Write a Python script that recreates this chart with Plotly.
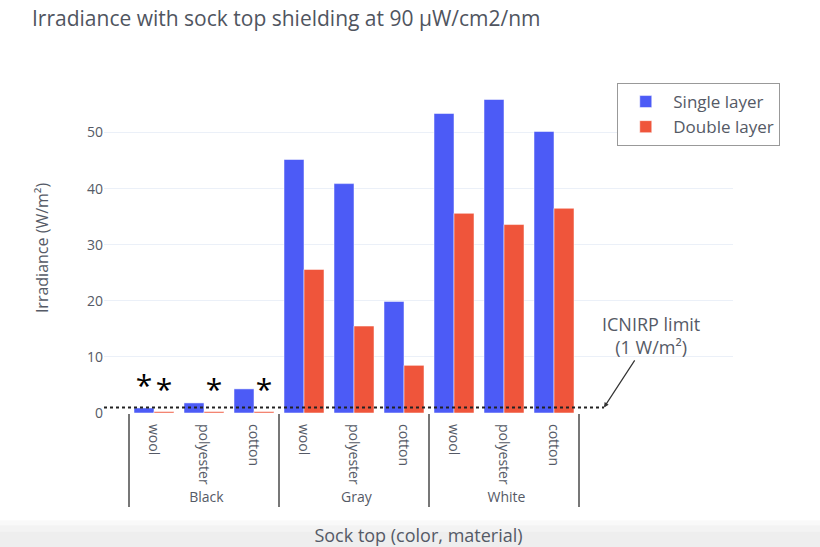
import plotly.graph_objects as go

colors = ["Black", "Black", "Black", "Gray", "Gray", "Gray", "White", "White", "White"]
materials = ["wool", "polyester", "cotton"] * 3

single_layer = [0.9, 1.8, 4.3, 45.2, 40.9, 19.9, 53.4, 55.9, 50.2]
double_layer = [0.25, 0.25, 0.25, 25.6, 15.5, 8.5, 35.6, 33.6, 36.5]

# values below the detection limit are flagged with an asterisk
single_marks = ["*", "", "", "", "", "", "", "", ""]
double_marks = ["*", "*", "*", "", "", "", "", "", ""]

icnirp_limit = 1.0

font_family = "Open Sans, sans-serif"
text_color = "#555a66"
blue = "#4C5BF6"
red = "#EF553B"

fig = go.Figure()
fig.add_trace(go.Bar(
    x=[colors, materials], y=single_layer, name="Single layer",
    marker_color=blue, text=single_marks, textposition="outside",
    textfont=dict(size=30, color="black"), cliponaxis=False,
))
fig.add_trace(go.Bar(
    x=[colors, materials], y=double_layer, name="Double layer",
    marker_color=red, text=double_marks, textposition="outside",
    textfont=dict(size=30, color="black"), cliponaxis=False,
))

# ICNIRP exposure limit as a dotted reference line
fig.add_shape(
    type="line", xref="x", yref="y", x0=-1, x1=9, y0=icnirp_limit, y1=icnirp_limit,
    line=dict(color="#222222", width=2, dash="dot"), layer="above",
)
fig.add_annotation(
    x=9, y=icnirp_limit, xref="x", yref="y",
    text="ICNIRP limit<br>(1 W/m²)", showarrow=True,
    ax=47, ay=-72, arrowhead=2, arrowsize=0.8, arrowwidth=1.2, arrowcolor="#333",
    font=dict(size=18, color=text_color, family=font_family),
)

# soft grey band fading in along the bottom edge
for y0, alpha in [(-0.325, 0.025), (-0.34, 0.025), (-0.36, 0.02)]:
    fig.add_shape(
        type="rect", xref="paper", yref="paper", x0=-0.2, x1=1.2, y0=-0.42, y1=y0,
        fillcolor=f"rgba(0,0,0,{alpha})", line_width=0, layer="below",
    )

fig.update_layout(
    template="plotly_white",
    width=820, height=547,
    margin=dict(l=104, r=87, t=83, b=134),
    font=dict(family=font_family, color=text_color),
    title=dict(
        text="Irradiance with sock top shielding at 90 μW/cm2/nm",
        x=32 / 820, xref="container", xanchor="left",
        y=1 - 19 / 547, yref="container", yanchor="middle",
        font=dict(size=21, color="#50555f", family=font_family),
    ),
    barmode="group", bargap=0.2,
    showlegend=True,
    legend=dict(
        x=0.816, y=1, xanchor="left", yanchor="top",
        bordercolor="#999999", borderwidth=1, itemwidth=45,
        font=dict(size=17, color=text_color),
    ),
    xaxis=dict(
        type="multicategory", range=[-1, 11.58], automargin=False,
        tickangle=90, tickfont=dict(size=14),
        ticklabelstandoff=10,
        showdividers=True, dividercolor="#777", dividerwidth=1.5,
        title=dict(text="Sock top (color, material)", font=dict(size=18), standoff=24),
        showgrid=False,
    ),
    yaxis=dict(
        dtick=10, tickfont=dict(size=14), automargin=False,
        title=dict(text="Irradiance (W/m²)", font=dict(size=16), standoff=34),
        zeroline=False,
    ),
)

fig.write_html("out.html")
